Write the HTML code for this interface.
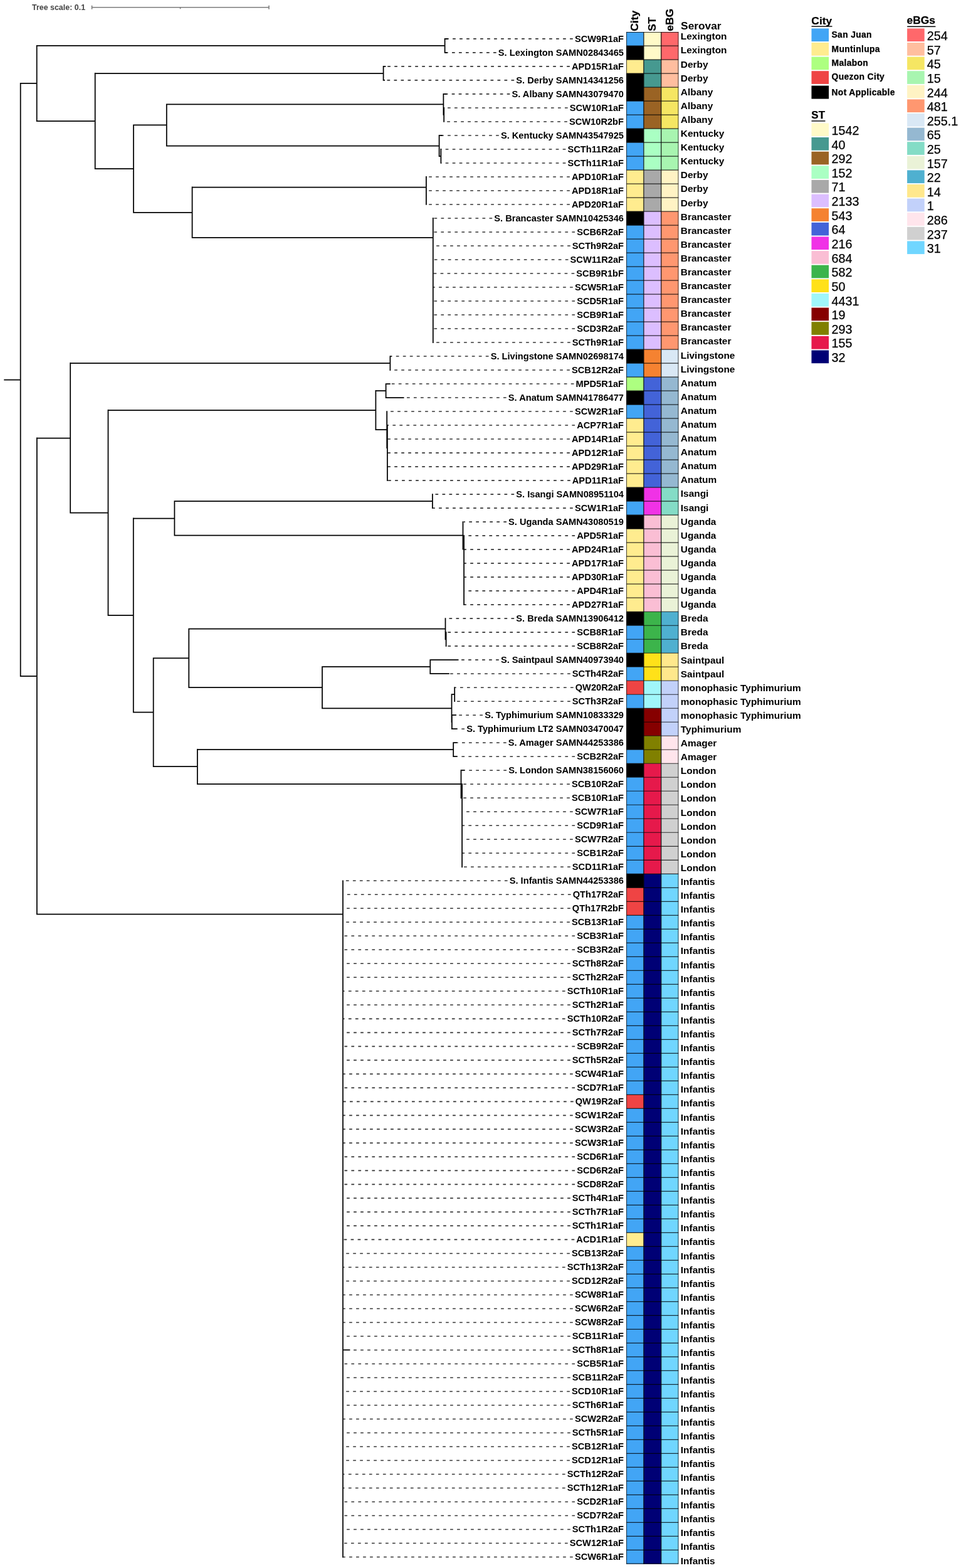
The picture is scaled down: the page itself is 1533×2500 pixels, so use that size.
<!DOCTYPE html>
<html lang="en"><head><meta charset="utf-8"><title>Phylogenetic tree</title>
<style>html,body{margin:0;padding:0;background:#fff}svg{display:block}text{font-family:"Liberation Sans",Arial,Helvetica,sans-serif}#legend text{stroke:#000;stroke-width:0.25px;stroke-linejoin:round}#heads text.hd{stroke:#000;stroke-width:0.25px;stroke-linejoin:round}.b{font-weight:bold}.lf{font-weight:bold;font-size:14.65px;text-anchor:end}.sv{font-weight:bold;font-size:15.45px}.lg{font-size:19.8px}.lc{font-weight:bold;font-size:13.9px;letter-spacing:0.33px}.lt{font-weight:bold;font-size:17px}.hd{font-weight:bold;font-size:16.7px}</style></head><body>
<svg width="1533" height="2500" viewBox="0 0 1533 2500">
<rect x="0" y="0" width="1533" height="2500" fill="#fff"/>
<g id="scale"><text x="51" y="15.8" class="b" font-size="12.45" fill="#454545" stroke="none" style="stroke:none">Tree scale: 0.1</text>
<path d="M146.6 11.8H429M146.6 8.8V14.8M429 8.8V14.8M287.6 11.8V14.2" stroke="#7c7c7c" stroke-width="1.6" fill="none"/></g>
<g id="dashes" stroke="#343434" stroke-width="1.6" fill="none" stroke-dasharray="4.7 6.3">
<path d="M913.8 61.90H710.9"/>
<path d="M791.7 83.91H709.8"/>
<path d="M908.9 105.91H612.6"/>
<path d="M820.2 127.92H611.8"/>
<path d="M813.4 149.92H708.0"/>
<path d="M905.7 171.93H708.6"/>
<path d="M904.9 193.94H708.6"/>
<path d="M795.8 215.94H701.4"/>
<path d="M902.4 237.95H703.8"/>
<path d="M902.4 259.95H703.8"/>
<path d="M908.9 281.96H680.3"/>
<path d="M908.9 303.97H680.3"/>
<path d="M908.9 325.97H680.3"/>
<path d="M785.2 347.98H691.2"/>
<path d="M917.1 369.98H691.2"/>
<path d="M909.8 391.99H691.2"/>
<path d="M906.5 414.00H691.2"/>
<path d="M916.3 436.00H691.2"/>
<path d="M913.8 458.01H691.2"/>
<path d="M917.1 480.01H691.2"/>
<path d="M917.1 502.02H691.2"/>
<path d="M917.1 524.03H691.2"/>
<path d="M909.8 546.03H691.2"/>
<path d="M779.5 568.04H624.0"/>
<path d="M908.9 590.04H622.8"/>
<path d="M915.5 612.05H622.7"/>
<path d="M807.7 634.06H644.5"/>
<path d="M913.8 656.06H617.8"/>
<path d="M917.1 678.07H618.2"/>
<path d="M908.9 700.07H618.2"/>
<path d="M908.9 722.08H618.2"/>
<path d="M908.9 744.09H618.2"/>
<path d="M909.8 766.09H618.2"/>
<path d="M820.2 788.10H690.6"/>
<path d="M913.8 810.10H691.0"/>
<path d="M808.0 832.11H739.6"/>
<path d="M917.1 854.12H740.6"/>
<path d="M908.9 876.12H740.6"/>
<path d="M908.9 898.13H740.6"/>
<path d="M908.9 920.13H740.6"/>
<path d="M917.1 942.14H740.6"/>
<path d="M908.9 964.15H740.6"/>
<path d="M820.2 986.15H711.0"/>
<path d="M917.1 1008.16H712.0"/>
<path d="M917.1 1030.16H712.0"/>
<path d="M795.8 1052.17H731.5"/>
<path d="M909.8 1074.18H716.8"/>
<path d="M914.7 1096.18H725.8"/>
<path d="M909.8 1118.19H725.8"/>
<path d="M770.0 1140.19H728.0"/>
<path d="M741.0 1162.20H729.6"/>
<path d="M807.7 1184.21H729.6"/>
<path d="M917.1 1206.21H729.6"/>
<path d="M808.0 1228.22H741.5"/>
<path d="M908.9 1250.22H737.6"/>
<path d="M908.9 1272.23H737.6"/>
<path d="M913.8 1294.24H737.6"/>
<path d="M917.1 1316.24H737.6"/>
<path d="M913.8 1338.25H737.6"/>
<path d="M917.1 1360.25H737.6"/>
<path d="M909.8 1382.26H737.6"/>
<path d="M809.6 1404.27H547.6"/>
<path d="M910.6 1426.27H547.6"/>
<path d="M909.8 1448.28H547.6"/>
<path d="M908.9 1470.28H547.6"/>
<path d="M917.1 1492.29H547.6"/>
<path d="M917.1 1514.30H547.6"/>
<path d="M909.8 1536.30H547.6"/>
<path d="M909.8 1558.31H547.6"/>
<path d="M901.6 1580.31H547.6"/>
<path d="M909.8 1602.32H547.6"/>
<path d="M901.6 1624.33H547.6"/>
<path d="M909.8 1646.33H547.6"/>
<path d="M917.1 1668.34H547.6"/>
<path d="M909.8 1690.34H547.6"/>
<path d="M913.8 1712.35H547.6"/>
<path d="M917.1 1734.36H547.6"/>
<path d="M914.7 1756.36H547.6"/>
<path d="M913.8 1778.37H547.6"/>
<path d="M913.8 1800.37H547.6"/>
<path d="M913.8 1822.38H547.6"/>
<path d="M917.1 1844.39H547.6"/>
<path d="M917.1 1866.39H547.6"/>
<path d="M917.1 1888.40H547.6"/>
<path d="M909.8 1910.40H547.6"/>
<path d="M909.8 1932.41H547.6"/>
<path d="M909.8 1954.42H547.6"/>
<path d="M916.3 1976.42H547.6"/>
<path d="M908.9 1998.43H547.6"/>
<path d="M901.6 2020.43H547.6"/>
<path d="M908.9 2042.44H547.6"/>
<path d="M913.8 2064.45H547.6"/>
<path d="M913.8 2086.45H547.6"/>
<path d="M913.8 2108.46H547.6"/>
<path d="M909.8 2130.46H547.6"/>
<path d="M909.8 2152.47H558.4"/>
<path d="M917.1 2174.48H547.6"/>
<path d="M909.8 2196.48H547.6"/>
<path d="M908.9 2218.49H547.6"/>
<path d="M909.8 2240.49H547.6"/>
<path d="M913.8 2262.50H547.6"/>
<path d="M909.8 2284.51H547.6"/>
<path d="M908.9 2306.51H547.6"/>
<path d="M908.9 2328.52H547.6"/>
<path d="M901.6 2350.52H547.6"/>
<path d="M901.6 2372.53H547.6"/>
<path d="M917.1 2394.54H547.6"/>
<path d="M917.1 2416.54H547.6"/>
<path d="M909.8 2438.55H547.6"/>
<path d="M905.7 2460.55H547.6"/>
<path d="M913.8 2482.56H547.6"/>
</g>
<path id="tree" d="M6.3 605.60H32.7M32.7 132.80H58.7M58.7 72.90H709.6M58.7 193.20H151.7M151.7 117.00H611.6M151.7 269.20H213.0M213.0 199.30H265.8M265.8 166.40H707.4M265.8 232.50H700.6M700.6 249.00H703.4M213.0 338.90H306.6M306.6 298.50H679.9M306.6 378.80H690.8M32.7 1078.10H58.9M58.9 698.50H112.2M112.2 579.00H622.4M112.2 817.50H172.5M172.5 654.00H599.4M599.4 623.00H615.6M615.6 612.05H622.7M615.6 634.06H644.5M599.4 685.00H617.2M172.5 981.00H212.8M212.8 826.50H278.4M278.4 799.20H689.9M278.4 853.70H738.5M212.8 1135.70H244.7M244.7 1049.40H301.3M301.3 1002.60H710.5M301.3 1096.00H514.0M514.0 1063.20H686.3M686.3 1052.17H731.5M686.3 1074.18H716.8M514.0 1129.30H720.5M720.5 1107.20H725.2M720.9 1140.19H728.0M720.9 1162.20H729.6M244.7 1222.20H314.9M314.9 1195.00H723.2M723.2 1184.21H729.6M723.2 1206.21H729.6M314.9 1250.00H735.5M735.5 1228.22H741.5M58.9 1457.70H547.0M547.0 2152.47H558.4M709.6 61.90H714.6M709.6 83.91H713.4M611.6 105.91H615.4M611.6 127.92H614.0M707.4 149.92H712.6M700.6 215.94H706.0M622.4 568.04H624.4M32.7 131.93V1078.97M58.7 72.03V194.07M709.6 61.02V84.78M151.7 116.12V270.07M611.6 105.04V128.79M213.0 198.43V339.77M265.8 165.53V233.38M707.4 149.05V183.78M708.2 171.06V194.81M700.6 215.07V249.88M703.4 237.07V260.83M306.6 297.62V379.68M679.9 281.08V326.85M690.8 347.10V546.91M58.9 697.62V1458.58M112.2 578.12V818.38M622.4 567.16V590.92M172.5 653.12V981.88M599.4 622.12V685.88M615.6 611.17V634.93M617.2 655.19V714.88M617.9 677.19V766.97M212.8 825.62V1136.58M278.4 798.33V854.58M689.9 787.22V810.98M738.5 831.24V876.58M740.1 853.24V965.02M244.7 1048.53V1223.08M301.3 1001.73V1096.88M710.5 985.28V1020.27M711.6 1007.28V1031.04M514.0 1062.33V1130.17M686.3 1051.30V1075.05M720.5 1106.33V1152.08M725.2 1095.31V1119.06M720.9 1139.32V1163.08M314.9 1194.12V1250.88M723.2 1183.33V1207.09M735.5 1227.34V1273.17M737.1 1249.35V1383.14M547.0 1403.39V2483.43" stroke="#000" stroke-width="1.75" fill="none"/>
<g id="leaves" fill="#000">
<text class="lf" x="995.0" y="66.50">SCW9R1aF</text>
<text class="lf" x="995.0" y="88.51">S. Lexington SAMN02843465</text>
<text class="lf" x="995.0" y="110.51">APD15R1aF</text>
<text class="lf" x="995.0" y="132.52">S. Derby SAMN14341256</text>
<text class="lf" x="995.0" y="154.52">S. Albany SAMN43079470</text>
<text class="lf" x="995.0" y="176.53">SCW10R1aF</text>
<text class="lf" x="995.0" y="198.54">SCW10R2bF</text>
<text class="lf" x="995.0" y="220.54">S. Kentucky SAMN43547925</text>
<text class="lf" x="995.0" y="242.55">SCTh11R2aF</text>
<text class="lf" x="995.0" y="264.55">SCTh11R1aF</text>
<text class="lf" x="995.0" y="286.56">APD10R1aF</text>
<text class="lf" x="995.0" y="308.57">APD18R1aF</text>
<text class="lf" x="995.0" y="330.57">APD20R1aF</text>
<text class="lf" x="995.0" y="352.58">S. Brancaster SAMN10425346</text>
<text class="lf" x="995.0" y="374.58">SCB6R2aF</text>
<text class="lf" x="995.0" y="396.59">SCTh9R2aF</text>
<text class="lf" x="995.0" y="418.60">SCW11R2aF</text>
<text class="lf" x="995.0" y="440.60">SCB9R1bF</text>
<text class="lf" x="995.0" y="462.61">SCW5R1aF</text>
<text class="lf" x="995.0" y="484.61">SCD5R1aF</text>
<text class="lf" x="995.0" y="506.62">SCB9R1aF</text>
<text class="lf" x="995.0" y="528.63">SCD3R2aF</text>
<text class="lf" x="995.0" y="550.63">SCTh9R1aF</text>
<text class="lf" x="995.0" y="572.64">S. Livingstone SAMN02698174</text>
<text class="lf" x="995.0" y="594.64">SCB12R2aF</text>
<text class="lf" x="995.0" y="616.65">MPD5R1aF</text>
<text class="lf" x="995.0" y="638.66">S. Anatum SAMN41786477</text>
<text class="lf" x="995.0" y="660.66">SCW2R1aF</text>
<text class="lf" x="995.0" y="682.67">ACP7R1aF</text>
<text class="lf" x="995.0" y="704.67">APD14R1aF</text>
<text class="lf" x="995.0" y="726.68">APD12R1aF</text>
<text class="lf" x="995.0" y="748.69">APD29R1aF</text>
<text class="lf" x="995.0" y="770.69">APD11R1aF</text>
<text class="lf" x="995.0" y="792.70">S. Isangi SAMN08951104</text>
<text class="lf" x="995.0" y="814.70">SCW1R1aF</text>
<text class="lf" x="995.0" y="836.71">S. Uganda SAMN43080519</text>
<text class="lf" x="995.0" y="858.72">APD5R1aF</text>
<text class="lf" x="995.0" y="880.72">APD24R1aF</text>
<text class="lf" x="995.0" y="902.73">APD17R1aF</text>
<text class="lf" x="995.0" y="924.73">APD30R1aF</text>
<text class="lf" x="995.0" y="946.74">APD4R1aF</text>
<text class="lf" x="995.0" y="968.75">APD27R1aF</text>
<text class="lf" x="995.0" y="990.75">S. Breda SAMN13906412</text>
<text class="lf" x="995.0" y="1012.76">SCB8R1aF</text>
<text class="lf" x="995.0" y="1034.76">SCB8R2aF</text>
<text class="lf" x="995.0" y="1056.77">S. Saintpaul SAMN40973940</text>
<text class="lf" x="995.0" y="1078.78">SCTh4R2aF</text>
<text class="lf" x="995.0" y="1100.78">QW20R2aF</text>
<text class="lf" x="995.0" y="1122.79">SCTh3R2aF</text>
<text class="lf" x="995.0" y="1144.79">S. Typhimurium SAMN10833329</text>
<text class="lf" x="995.0" y="1166.80">S. Typhimurium LT2 SAMN03470047</text>
<text class="lf" x="995.0" y="1188.81">S. Amager SAMN44253386</text>
<text class="lf" x="995.0" y="1210.81">SCB2R2aF</text>
<text class="lf" x="995.0" y="1232.82">S. London SAMN38156060</text>
<text class="lf" x="995.0" y="1254.82">SCB10R2aF</text>
<text class="lf" x="995.0" y="1276.83">SCB10R1aF</text>
<text class="lf" x="995.0" y="1298.84">SCW7R1aF</text>
<text class="lf" x="995.0" y="1320.84">SCD9R1aF</text>
<text class="lf" x="995.0" y="1342.85">SCW7R2aF</text>
<text class="lf" x="995.0" y="1364.85">SCB1R2aF</text>
<text class="lf" x="995.0" y="1386.86">SCD11R1aF</text>
<text class="lf" x="995.0" y="1408.87">S. Infantis SAMN44253386</text>
<text class="lf" x="995.0" y="1430.87">QTh17R2aF</text>
<text class="lf" x="995.0" y="1452.88">QTh17R2bF</text>
<text class="lf" x="995.0" y="1474.88">SCB13R1aF</text>
<text class="lf" x="995.0" y="1496.89">SCB3R1aF</text>
<text class="lf" x="995.0" y="1518.90">SCB3R2aF</text>
<text class="lf" x="995.0" y="1540.90">SCTh8R2aF</text>
<text class="lf" x="995.0" y="1562.91">SCTh2R2aF</text>
<text class="lf" x="995.0" y="1584.91">SCTh10R1aF</text>
<text class="lf" x="995.0" y="1606.92">SCTh2R1aF</text>
<text class="lf" x="995.0" y="1628.93">SCTh10R2aF</text>
<text class="lf" x="995.0" y="1650.93">SCTh7R2aF</text>
<text class="lf" x="995.0" y="1672.94">SCB9R2aF</text>
<text class="lf" x="995.0" y="1694.94">SCTh5R2aF</text>
<text class="lf" x="995.0" y="1716.95">SCW4R1aF</text>
<text class="lf" x="995.0" y="1738.96">SCD7R1aF</text>
<text class="lf" x="995.0" y="1760.96">QW19R2aF</text>
<text class="lf" x="995.0" y="1782.97">SCW1R2aF</text>
<text class="lf" x="995.0" y="1804.97">SCW3R2aF</text>
<text class="lf" x="995.0" y="1826.98">SCW3R1aF</text>
<text class="lf" x="995.0" y="1848.99">SCD6R1aF</text>
<text class="lf" x="995.0" y="1870.99">SCD6R2aF</text>
<text class="lf" x="995.0" y="1893.00">SCD8R2aF</text>
<text class="lf" x="995.0" y="1915.00">SCTh4R1aF</text>
<text class="lf" x="995.0" y="1937.01">SCTh7R1aF</text>
<text class="lf" x="995.0" y="1959.02">SCTh1R1aF</text>
<text class="lf" x="995.0" y="1981.02">ACD1R1aF</text>
<text class="lf" x="995.0" y="2003.03">SCB13R2aF</text>
<text class="lf" x="995.0" y="2025.03">SCTh13R2aF</text>
<text class="lf" x="995.0" y="2047.04">SCD12R2aF</text>
<text class="lf" x="995.0" y="2069.05">SCW8R1aF</text>
<text class="lf" x="995.0" y="2091.05">SCW6R2aF</text>
<text class="lf" x="995.0" y="2113.06">SCW8R2aF</text>
<text class="lf" x="995.0" y="2135.06">SCB11R1aF</text>
<text class="lf" x="995.0" y="2157.07">SCTh8R1aF</text>
<text class="lf" x="995.0" y="2179.08">SCB5R1aF</text>
<text class="lf" x="995.0" y="2201.08">SCB11R2aF</text>
<text class="lf" x="995.0" y="2223.09">SCD10R1aF</text>
<text class="lf" x="995.0" y="2245.09">SCTh6R1aF</text>
<text class="lf" x="995.0" y="2267.10">SCW2R2aF</text>
<text class="lf" x="995.0" y="2289.11">SCTh5R1aF</text>
<text class="lf" x="995.0" y="2311.11">SCB12R1aF</text>
<text class="lf" x="995.0" y="2333.12">SCD12R1aF</text>
<text class="lf" x="995.0" y="2355.12">SCTh12R2aF</text>
<text class="lf" x="995.0" y="2377.13">SCTh12R1aF</text>
<text class="lf" x="995.0" y="2399.14">SCD2R1aF</text>
<text class="lf" x="995.0" y="2421.14">SCD7R2aF</text>
<text class="lf" x="995.0" y="2443.15">SCTh1R2aF</text>
<text class="lf" x="995.0" y="2465.15">SCW12R1aF</text>
<text class="lf" x="995.0" y="2487.16">SCW6R1aF</text>
</g>
<g id="heat" shape-rendering="auto">
<rect x="999.10" y="50.90" width="27.80" height="22.20" fill="#42a5f5"/>
<rect x="999.10" y="73.10" width="27.80" height="22.00" fill="#000000"/>
<rect x="999.10" y="95.11" width="27.80" height="22.00" fill="#ffec8f"/>
<rect x="999.10" y="117.11" width="27.80" height="44.01" fill="#000000"/>
<rect x="999.10" y="161.12" width="27.80" height="44.01" fill="#42a5f5"/>
<rect x="999.10" y="205.12" width="27.80" height="22.00" fill="#000000"/>
<rect x="999.10" y="227.12" width="27.80" height="44.01" fill="#42a5f5"/>
<rect x="999.10" y="271.13" width="27.80" height="66.01" fill="#ffec8f"/>
<rect x="999.10" y="337.14" width="27.80" height="22.00" fill="#000000"/>
<rect x="999.10" y="359.14" width="27.80" height="198.03" fill="#42a5f5"/>
<rect x="999.10" y="557.17" width="27.80" height="22.00" fill="#000000"/>
<rect x="999.10" y="579.17" width="27.80" height="22.00" fill="#42a5f5"/>
<rect x="999.10" y="601.18" width="27.80" height="22.00" fill="#adff80"/>
<rect x="999.10" y="623.18" width="27.80" height="22.00" fill="#000000"/>
<rect x="999.10" y="645.18" width="27.80" height="22.00" fill="#42a5f5"/>
<rect x="999.10" y="667.18" width="27.80" height="110.01" fill="#ffec8f"/>
<rect x="999.10" y="777.20" width="27.80" height="22.00" fill="#000000"/>
<rect x="999.10" y="799.20" width="27.80" height="22.00" fill="#42a5f5"/>
<rect x="999.10" y="821.21" width="27.80" height="22.00" fill="#000000"/>
<rect x="999.10" y="843.21" width="27.80" height="132.02" fill="#ffec8f"/>
<rect x="999.10" y="975.23" width="27.80" height="22.00" fill="#000000"/>
<rect x="999.10" y="997.23" width="27.80" height="44.01" fill="#42a5f5"/>
<rect x="999.10" y="1041.23" width="27.80" height="22.00" fill="#000000"/>
<rect x="999.10" y="1063.24" width="27.80" height="22.00" fill="#42a5f5"/>
<rect x="999.10" y="1085.24" width="27.80" height="22.00" fill="#ef4444"/>
<rect x="999.10" y="1107.24" width="27.80" height="22.00" fill="#42a5f5"/>
<rect x="999.10" y="1129.25" width="27.80" height="66.01" fill="#000000"/>
<rect x="999.10" y="1195.26" width="27.80" height="22.00" fill="#42a5f5"/>
<rect x="999.10" y="1217.26" width="27.80" height="22.00" fill="#000000"/>
<rect x="999.10" y="1239.26" width="27.80" height="154.02" fill="#42a5f5"/>
<rect x="999.10" y="1393.28" width="27.80" height="22.00" fill="#000000"/>
<rect x="999.10" y="1415.29" width="27.80" height="44.01" fill="#ef4444"/>
<rect x="999.10" y="1459.29" width="27.80" height="286.04" fill="#42a5f5"/>
<rect x="999.10" y="1745.33" width="27.80" height="22.00" fill="#ef4444"/>
<rect x="999.10" y="1767.33" width="27.80" height="198.03" fill="#42a5f5"/>
<rect x="999.10" y="1965.36" width="27.80" height="22.00" fill="#ffec8f"/>
<rect x="999.10" y="1987.36" width="27.80" height="506.27" fill="#42a5f5"/>
<rect x="1026.90" y="50.90" width="27.80" height="44.21" fill="#fffac8"/>
<rect x="1026.90" y="95.11" width="27.80" height="44.01" fill="#469990"/>
<rect x="1026.90" y="139.11" width="27.80" height="66.01" fill="#9a6324"/>
<rect x="1026.90" y="205.12" width="27.80" height="66.01" fill="#aaffc3"/>
<rect x="1026.90" y="271.13" width="27.80" height="66.01" fill="#a9a9a9"/>
<rect x="1026.90" y="337.14" width="27.80" height="220.03" fill="#dcbeff"/>
<rect x="1026.90" y="557.17" width="27.80" height="44.01" fill="#f58231"/>
<rect x="1026.90" y="601.18" width="27.80" height="176.02" fill="#4363d8"/>
<rect x="1026.90" y="777.20" width="27.80" height="44.01" fill="#f032e6"/>
<rect x="1026.90" y="821.21" width="27.80" height="154.02" fill="#fabed4"/>
<rect x="1026.90" y="975.23" width="27.80" height="66.01" fill="#3cb44b"/>
<rect x="1026.90" y="1041.23" width="27.80" height="44.01" fill="#ffe119"/>
<rect x="1026.90" y="1085.24" width="27.80" height="44.01" fill="#a0f6fa"/>
<rect x="1026.90" y="1129.25" width="27.80" height="44.01" fill="#860000"/>
<rect x="1026.90" y="1173.25" width="27.80" height="44.01" fill="#808000"/>
<rect x="1026.90" y="1217.26" width="27.80" height="176.02" fill="#e6194b"/>
<rect x="1026.90" y="1393.28" width="27.80" height="1100.35" fill="#000075"/>
<rect x="1054.70" y="50.90" width="27.70" height="44.21" fill="#ff686b"/>
<rect x="1054.70" y="95.11" width="27.70" height="44.01" fill="#ffbe9f"/>
<rect x="1054.70" y="139.11" width="27.70" height="66.01" fill="#f5e663"/>
<rect x="1054.70" y="205.12" width="27.70" height="66.01" fill="#a8f5b0"/>
<rect x="1054.70" y="271.13" width="27.70" height="66.01" fill="#fff3c4"/>
<rect x="1054.70" y="337.14" width="27.70" height="220.03" fill="#ff9770"/>
<rect x="1054.70" y="557.17" width="27.70" height="44.01" fill="#d9e8f5"/>
<rect x="1054.70" y="601.18" width="27.70" height="176.02" fill="#95b8d1"/>
<rect x="1054.70" y="777.20" width="27.70" height="44.01" fill="#84dcc6"/>
<rect x="1054.70" y="821.21" width="27.70" height="154.02" fill="#eaf2d7"/>
<rect x="1054.70" y="975.23" width="27.70" height="66.01" fill="#4fb0d0"/>
<rect x="1054.70" y="1041.23" width="27.70" height="44.01" fill="#ffe88c"/>
<rect x="1054.70" y="1085.24" width="27.70" height="88.01" fill="#c2d1fa"/>
<rect x="1054.70" y="1173.25" width="27.70" height="44.01" fill="#ffe5ec"/>
<rect x="1054.70" y="1217.26" width="27.70" height="176.02" fill="#d0d0d0"/>
<rect x="1054.70" y="1393.28" width="27.70" height="1100.35" fill="#70d6ff"/>
<path d="M999.3 51.50H1082.2M999.3 73.10H1082.2M999.3 95.11H1082.2M999.3 117.11H1082.2M999.3 139.11H1082.2M999.3 161.12H1082.2M999.3 183.12H1082.2M999.3 205.12H1082.2M999.3 227.12H1082.2M999.3 249.13H1082.2M999.3 271.13H1082.2M999.3 293.13H1082.2M999.3 315.14H1082.2M999.3 337.14H1082.2M999.3 359.14H1082.2M999.3 381.15H1082.2M999.3 403.15H1082.2M999.3 425.15H1082.2M999.3 447.15H1082.2M999.3 469.16H1082.2M999.3 491.16H1082.2M999.3 513.16H1082.2M999.3 535.17H1082.2M999.3 557.17H1082.2M999.3 579.17H1082.2M999.3 601.18H1082.2M999.3 623.18H1082.2M999.3 645.18H1082.2M999.3 667.18H1082.2M999.3 689.19H1082.2M999.3 711.19H1082.2M999.3 733.19H1082.2M999.3 755.20H1082.2M999.3 777.20H1082.2M999.3 799.20H1082.2M999.3 821.21H1082.2M999.3 843.21H1082.2M999.3 865.21H1082.2M999.3 887.21H1082.2M999.3 909.22H1082.2M999.3 931.22H1082.2M999.3 953.22H1082.2M999.3 975.23H1082.2M999.3 997.23H1082.2M999.3 1019.23H1082.2M999.3 1041.23H1082.2M999.3 1063.24H1082.2M999.3 1085.24H1082.2M999.3 1107.24H1082.2M999.3 1129.25H1082.2M999.3 1151.25H1082.2M999.3 1173.25H1082.2M999.3 1195.26H1082.2M999.3 1217.26H1082.2M999.3 1239.26H1082.2M999.3 1261.26H1082.2M999.3 1283.27H1082.2M999.3 1305.27H1082.2M999.3 1327.27H1082.2M999.3 1349.28H1082.2M999.3 1371.28H1082.2M999.3 1393.28H1082.2M999.3 1415.29H1082.2M999.3 1437.29H1082.2M999.3 1459.29H1082.2M999.3 1481.29H1082.2M999.3 1503.30H1082.2M999.3 1525.30H1082.2M999.3 1547.30H1082.2M999.3 1569.31H1082.2M999.3 1591.31H1082.2M999.3 1613.31H1082.2M999.3 1635.32H1082.2M999.3 1657.32H1082.2M999.3 1679.32H1082.2M999.3 1701.32H1082.2M999.3 1723.33H1082.2M999.3 1745.33H1082.2M999.3 1767.33H1082.2M999.3 1789.34H1082.2M999.3 1811.34H1082.2M999.3 1833.34H1082.2M999.3 1855.35H1082.2M999.3 1877.35H1082.2M999.3 1899.35H1082.2M999.3 1921.36H1082.2M999.3 1943.36H1082.2M999.3 1965.36H1082.2M999.3 1987.36H1082.2M999.3 2009.37H1082.2M999.3 2031.37H1082.2M999.3 2053.37H1082.2M999.3 2075.38H1082.2M999.3 2097.38H1082.2M999.3 2119.38H1082.2M999.3 2141.38H1082.2M999.3 2163.39H1082.2M999.3 2185.39H1082.2M999.3 2207.39H1082.2M999.3 2229.40H1082.2M999.3 2251.40H1082.2M999.3 2273.40H1082.2M999.3 2295.41H1082.2M999.3 2317.41H1082.2M999.3 2339.41H1082.2M999.3 2361.41H1082.2M999.3 2383.42H1082.2M999.3 2405.42H1082.2M999.3 2427.42H1082.2M999.3 2449.43H1082.2M999.3 2471.43H1082.2M999.3 2493.13H1082.2" stroke="#000" stroke-opacity="0.78" stroke-width="1.2" fill="none"/>
<path d="M1026.9 50.90V2493.63M1054.7 50.90V2493.63" stroke="#000" stroke-opacity="0.95" stroke-width="1.15" fill="none"/>
<path d="M999.55 50.90V2493.63M1081.95 50.90V2493.63" stroke="#000" stroke-opacity="0.8" stroke-width="0.9" fill="none"/>
</g>
<g id="heads" fill="#000">
<text class="hd" transform="translate(1018.3 49.8) rotate(-90) scale(1.05 1)">City</text>
<text class="hd" transform="translate(1045.8 49.8) rotate(-90) scale(1.05 1)">ST</text>
<text class="hd" transform="translate(1073.9 49.8) rotate(-90) scale(1.05 1)">eBG</text>
<text class="b" transform="translate(1086.1 46.8) scale(1.03 1)" font-size="16.8">Serovar</text>
</g>
<g id="serovar" fill="#000">
<text class="sv" x="1085.8" y="63.40">Lexington</text>
<text class="sv" x="1085.8" y="85.49">Lexington</text>
<text class="sv" x="1085.8" y="107.58">Derby</text>
<text class="sv" x="1085.8" y="129.68">Derby</text>
<text class="sv" x="1085.8" y="151.77">Albany</text>
<text class="sv" x="1085.8" y="173.86">Albany</text>
<text class="sv" x="1085.8" y="195.95">Albany</text>
<text class="sv" x="1085.8" y="218.04">Kentucky</text>
<text class="sv" x="1085.8" y="240.14">Kentucky</text>
<text class="sv" x="1085.8" y="262.23">Kentucky</text>
<text class="sv" x="1085.8" y="284.32">Derby</text>
<text class="sv" x="1085.8" y="306.41">Derby</text>
<text class="sv" x="1085.8" y="328.50">Derby</text>
<text class="sv" x="1085.8" y="350.60">Brancaster</text>
<text class="sv" x="1085.8" y="372.69">Brancaster</text>
<text class="sv" x="1085.8" y="394.78">Brancaster</text>
<text class="sv" x="1085.8" y="416.87">Brancaster</text>
<text class="sv" x="1085.8" y="438.96">Brancaster</text>
<text class="sv" x="1085.8" y="461.06">Brancaster</text>
<text class="sv" x="1085.8" y="483.15">Brancaster</text>
<text class="sv" x="1085.8" y="505.24">Brancaster</text>
<text class="sv" x="1085.8" y="527.33">Brancaster</text>
<text class="sv" x="1085.8" y="549.42">Brancaster</text>
<text class="sv" x="1085.8" y="571.52">Livingstone</text>
<text class="sv" x="1085.8" y="593.61">Livingstone</text>
<text class="sv" x="1085.8" y="615.70">Anatum</text>
<text class="sv" x="1085.8" y="637.79">Anatum</text>
<text class="sv" x="1085.8" y="659.88">Anatum</text>
<text class="sv" x="1085.8" y="681.98">Anatum</text>
<text class="sv" x="1085.8" y="704.07">Anatum</text>
<text class="sv" x="1085.8" y="726.16">Anatum</text>
<text class="sv" x="1085.8" y="748.25">Anatum</text>
<text class="sv" x="1085.8" y="770.34">Anatum</text>
<text class="sv" x="1085.8" y="792.44">Isangi</text>
<text class="sv" x="1085.8" y="814.53">Isangi</text>
<text class="sv" x="1085.8" y="836.62">Uganda</text>
<text class="sv" x="1085.8" y="858.71">Uganda</text>
<text class="sv" x="1085.8" y="880.80">Uganda</text>
<text class="sv" x="1085.8" y="902.90">Uganda</text>
<text class="sv" x="1085.8" y="924.99">Uganda</text>
<text class="sv" x="1085.8" y="947.08">Uganda</text>
<text class="sv" x="1085.8" y="969.17">Uganda</text>
<text class="sv" x="1085.8" y="991.26">Breda</text>
<text class="sv" x="1085.8" y="1013.36">Breda</text>
<text class="sv" x="1085.8" y="1035.45">Breda</text>
<text class="sv" x="1085.8" y="1057.54">Saintpaul</text>
<text class="sv" x="1085.8" y="1079.63">Saintpaul</text>
<text class="sv" x="1085.8" y="1101.72">monophasic Typhimurium</text>
<text class="sv" x="1085.8" y="1123.82">monophasic Typhimurium</text>
<text class="sv" x="1085.8" y="1145.91">monophasic Typhimurium</text>
<text class="sv" x="1085.8" y="1168.00">Typhimurium</text>
<text class="sv" x="1085.8" y="1190.09">Amager</text>
<text class="sv" x="1085.8" y="1212.18">Amager</text>
<text class="sv" x="1085.8" y="1234.28">London</text>
<text class="sv" x="1085.8" y="1256.37">London</text>
<text class="sv" x="1085.8" y="1278.46">London</text>
<text class="sv" x="1085.8" y="1300.55">London</text>
<text class="sv" x="1085.8" y="1322.64">London</text>
<text class="sv" x="1085.8" y="1344.74">London</text>
<text class="sv" x="1085.8" y="1366.83">London</text>
<text class="sv" x="1085.8" y="1388.92">London</text>
<text class="sv" x="1085.8" y="1411.01">Infantis</text>
<text class="sv" x="1085.8" y="1433.10">Infantis</text>
<text class="sv" x="1085.8" y="1455.20">Infantis</text>
<text class="sv" x="1085.8" y="1477.29">Infantis</text>
<text class="sv" x="1085.8" y="1499.38">Infantis</text>
<text class="sv" x="1085.8" y="1521.47">Infantis</text>
<text class="sv" x="1085.8" y="1543.56">Infantis</text>
<text class="sv" x="1085.8" y="1565.66">Infantis</text>
<text class="sv" x="1085.8" y="1587.75">Infantis</text>
<text class="sv" x="1085.8" y="1609.84">Infantis</text>
<text class="sv" x="1085.8" y="1631.93">Infantis</text>
<text class="sv" x="1085.8" y="1654.02">Infantis</text>
<text class="sv" x="1085.8" y="1676.12">Infantis</text>
<text class="sv" x="1085.8" y="1698.21">Infantis</text>
<text class="sv" x="1085.8" y="1720.30">Infantis</text>
<text class="sv" x="1085.8" y="1742.39">Infantis</text>
<text class="sv" x="1085.8" y="1764.48">Infantis</text>
<text class="sv" x="1085.8" y="1786.58">Infantis</text>
<text class="sv" x="1085.8" y="1808.67">Infantis</text>
<text class="sv" x="1085.8" y="1830.76">Infantis</text>
<text class="sv" x="1085.8" y="1852.85">Infantis</text>
<text class="sv" x="1085.8" y="1874.94">Infantis</text>
<text class="sv" x="1085.8" y="1897.04">Infantis</text>
<text class="sv" x="1085.8" y="1919.13">Infantis</text>
<text class="sv" x="1085.8" y="1941.22">Infantis</text>
<text class="sv" x="1085.8" y="1963.31">Infantis</text>
<text class="sv" x="1085.8" y="1985.40">Infantis</text>
<text class="sv" x="1085.8" y="2007.50">Infantis</text>
<text class="sv" x="1085.8" y="2029.59">Infantis</text>
<text class="sv" x="1085.8" y="2051.68">Infantis</text>
<text class="sv" x="1085.8" y="2073.77">Infantis</text>
<text class="sv" x="1085.8" y="2095.86">Infantis</text>
<text class="sv" x="1085.8" y="2117.96">Infantis</text>
<text class="sv" x="1085.8" y="2140.05">Infantis</text>
<text class="sv" x="1085.8" y="2162.14">Infantis</text>
<text class="sv" x="1085.8" y="2184.23">Infantis</text>
<text class="sv" x="1085.8" y="2206.32">Infantis</text>
<text class="sv" x="1085.8" y="2228.42">Infantis</text>
<text class="sv" x="1085.8" y="2250.51">Infantis</text>
<text class="sv" x="1085.8" y="2272.60">Infantis</text>
<text class="sv" x="1085.8" y="2294.69">Infantis</text>
<text class="sv" x="1085.8" y="2316.78">Infantis</text>
<text class="sv" x="1085.8" y="2338.88">Infantis</text>
<text class="sv" x="1085.8" y="2360.97">Infantis</text>
<text class="sv" x="1085.8" y="2383.06">Infantis</text>
<text class="sv" x="1085.8" y="2405.15">Infantis</text>
<text class="sv" x="1085.8" y="2427.24">Infantis</text>
<text class="sv" x="1085.8" y="2449.34">Infantis</text>
<text class="sv" x="1085.8" y="2471.43">Infantis</text>
<text class="sv" x="1085.8" y="2493.52">Infantis</text>
</g>
<g id="legend" fill="#000">
<text class="lt" transform="translate(1294.3 38.6) scale(1.025 1)">City</text><rect x="1294.5" y="41.4" width="33" height="1.4"/>
<rect x="1294.5" y="45.4" width="27.6" height="20.7" fill="#42a5f5"/>
<text class="lc" x="1326.5" y="59.6">San Juan</text>
<rect x="1294.5" y="68.0" width="27.6" height="20.7" fill="#ffec8f"/>
<text class="lc" x="1326.5" y="82.6">Muntinlupa</text>
<rect x="1294.5" y="90.6" width="27.6" height="20.7" fill="#adff80"/>
<text class="lc" x="1326.5" y="105.0">Malabon</text>
<rect x="1294.5" y="113.2" width="27.6" height="20.7" fill="#ef4444"/>
<text class="lc" x="1326.5" y="126.9">Quezon City</text>
<rect x="1294.5" y="136.6" width="27.6" height="21.0" fill="#000000"/>
<text class="lc" x="1326.5" y="151.6">Not Applicable</text>
<text class="lt" x="1294.3" y="188.6">ST</text><rect x="1294.5" y="192.2" width="22" height="1.4"/>
<rect x="1294.5" y="196.4" width="27.6" height="20.7" fill="#fffac8"/>
<text class="lg" x="1326.4" y="214.9">1542</text>
<rect x="1294.5" y="219.0" width="27.6" height="20.7" fill="#469990"/>
<text class="lg" x="1326.4" y="237.5">40</text>
<rect x="1294.5" y="241.7" width="27.6" height="20.7" fill="#9a6324"/>
<text class="lg" x="1326.4" y="260.2">292</text>
<rect x="1294.5" y="264.3" width="27.6" height="20.7" fill="#aaffc3"/>
<text class="lg" x="1326.4" y="282.8">152</text>
<rect x="1294.5" y="286.9" width="27.6" height="20.7" fill="#a9a9a9"/>
<text class="lg" x="1326.4" y="305.4">71</text>
<rect x="1294.5" y="309.6" width="27.6" height="20.7" fill="#dcbeff"/>
<text class="lg" x="1326.4" y="328.1">2133</text>
<rect x="1294.5" y="332.2" width="27.6" height="20.7" fill="#f58231"/>
<text class="lg" x="1326.4" y="350.7">543</text>
<rect x="1294.5" y="354.8" width="27.6" height="20.7" fill="#4363d8"/>
<text class="lg" x="1326.4" y="373.3">64</text>
<rect x="1294.5" y="377.4" width="27.6" height="20.7" fill="#f032e6"/>
<text class="lg" x="1326.4" y="395.9">216</text>
<rect x="1294.5" y="400.1" width="27.6" height="20.7" fill="#fabed4"/>
<text class="lg" x="1326.4" y="418.6">684</text>
<rect x="1294.5" y="422.7" width="27.6" height="20.7" fill="#3cb44b"/>
<text class="lg" x="1326.4" y="441.2">582</text>
<rect x="1294.5" y="445.3" width="27.6" height="20.7" fill="#ffe119"/>
<text class="lg" x="1326.4" y="463.8">50</text>
<rect x="1294.5" y="468.0" width="27.6" height="20.7" fill="#a0f6fa"/>
<text class="lg" x="1326.4" y="486.5">4431</text>
<rect x="1294.5" y="490.6" width="27.6" height="20.7" fill="#860000"/>
<text class="lg" x="1326.4" y="509.1">19</text>
<rect x="1294.5" y="513.2" width="27.6" height="20.7" fill="#808000"/>
<text class="lg" x="1326.4" y="531.7">293</text>
<rect x="1294.5" y="535.9" width="27.6" height="20.7" fill="#e6194b"/>
<text class="lg" x="1326.4" y="554.4">155</text>
<rect x="1294.5" y="558.5" width="27.6" height="20.7" fill="#000075"/>
<text class="lg" x="1326.4" y="577.0">32</text>
<text class="b" font-size="15.7" transform="translate(1446.6 38.2) scale(1.105 1)">eBGs</text><rect x="1447.2" y="41.6" width="45.2" height="1.5"/>
<rect x="1447.1" y="45.4" width="27.6" height="20.7" fill="#ff686b"/>
<text class="lg" x="1478.8" y="64.1">254</text>
<rect x="1447.1" y="68.0" width="27.6" height="20.7" fill="#ffbe9f"/>
<text class="lg" x="1478.8" y="86.7">57</text>
<rect x="1447.1" y="90.6" width="27.6" height="20.7" fill="#f5e663"/>
<text class="lg" x="1478.8" y="109.3">45</text>
<rect x="1447.1" y="113.2" width="27.6" height="20.7" fill="#a8f5b0"/>
<text class="lg" x="1478.8" y="131.9">15</text>
<rect x="1447.1" y="135.8" width="27.6" height="20.7" fill="#fff3c4"/>
<text class="lg" x="1478.8" y="154.5">244</text>
<rect x="1447.1" y="158.4" width="27.6" height="20.7" fill="#ff9770"/>
<text class="lg" x="1478.8" y="177.1">481</text>
<rect x="1447.1" y="181.0" width="27.6" height="20.7" fill="#d9e8f5"/>
<text class="lg" x="1478.8" y="199.7">255.1</text>
<rect x="1447.1" y="203.6" width="27.6" height="20.7" fill="#95b8d1"/>
<text class="lg" x="1478.8" y="222.3">65</text>
<rect x="1447.1" y="226.2" width="27.6" height="20.7" fill="#84dcc6"/>
<text class="lg" x="1478.8" y="244.9">25</text>
<rect x="1447.1" y="248.8" width="27.6" height="20.7" fill="#eaf2d7"/>
<text class="lg" x="1478.8" y="267.5">157</text>
<rect x="1447.1" y="271.4" width="27.6" height="20.7" fill="#4fb0d0"/>
<text class="lg" x="1478.8" y="290.1">22</text>
<rect x="1447.1" y="294.0" width="27.6" height="20.7" fill="#ffe88c"/>
<text class="lg" x="1478.8" y="312.7">14</text>
<rect x="1447.1" y="316.6" width="27.6" height="20.7" fill="#c2d1fa"/>
<text class="lg" x="1478.8" y="335.3">1</text>
<rect x="1447.1" y="339.2" width="27.6" height="20.7" fill="#ffe5ec"/>
<text class="lg" x="1478.8" y="357.9">286</text>
<rect x="1447.1" y="361.8" width="27.6" height="20.7" fill="#d0d0d0"/>
<text class="lg" x="1478.8" y="380.5">237</text>
<rect x="1447.1" y="384.4" width="27.6" height="20.7" fill="#70d6ff"/>
<text class="lg" x="1478.8" y="403.1">31</text>
</g>
</svg></body></html>
